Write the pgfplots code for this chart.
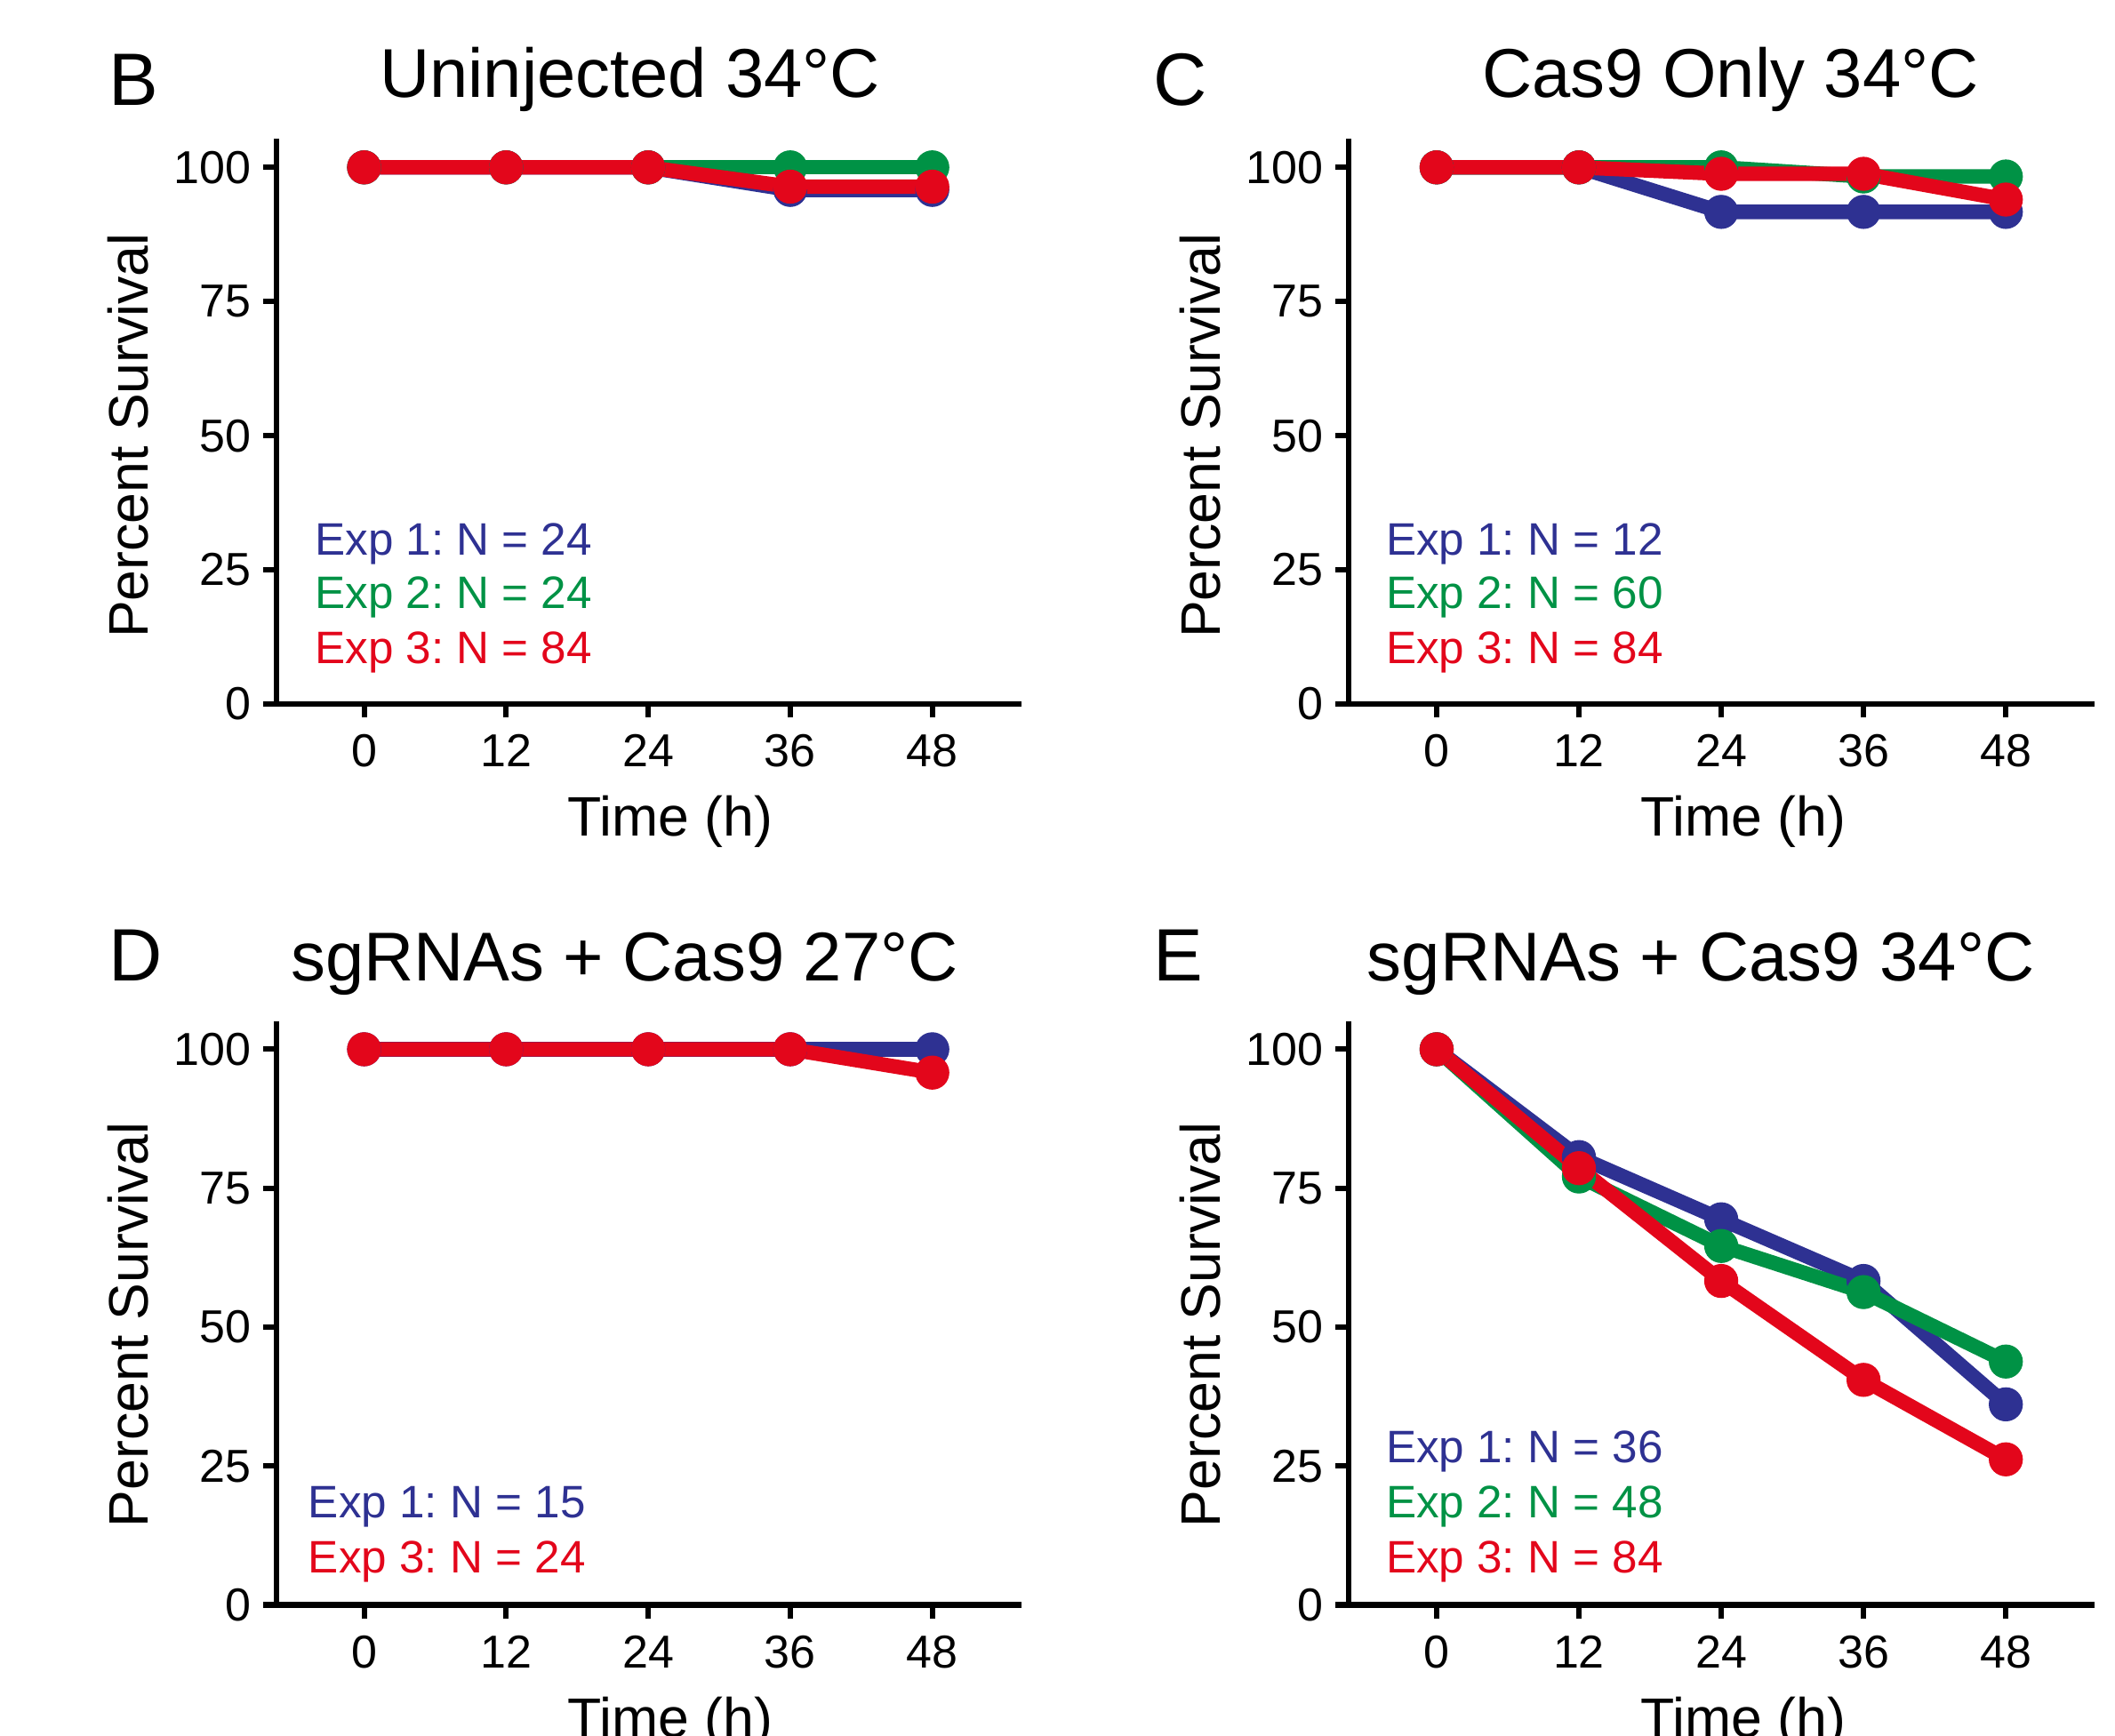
\documentclass[border=0pt]{standalone}
\usepackage{fontspec}
\setmainfont{Liberation Sans}
\usepackage{pgfplots}
\pgfplotsset{compat=1.18}
\frenchspacing
\definecolor{cblue}{HTML}{2E3192}
\definecolor{cgreen}{HTML}{009245}
\definecolor{cred}{HTML}{E3061B}
\pgfplotsset{
  panel/.style={
    scale only axis, width=220.8pt,
    xmin=-7.4, xmax=55.5, ymin=0,
    axis x line*=bottom, axis y line*=left,
    axis line style={line width=1.6pt, -, black},
    xtick={0,12,24,36,48}, ytick={0,25,50,75,100},
    tick style={line width=1.6pt, black},
    major tick length=4pt, tick align=outside,
    tick label style={font=\fontsize{13.7}{15}\selectfont},
    xticklabel style={yshift=-1.6pt},
    /pgf/number format/assume math mode=true,
    label style={font=\fontsize{16.5}{18}\selectfont},
    xlabel={Time (h)}, ylabel={Percent Survival},
    xlabel style={at={(rel axis cs:0.529,0)}, anchor=base, yshift=-39.2pt},
    clip=false,
  },
  ser/.style={line width=4.3pt, mark=*, mark size=4.9pt, mark options={line width=0.3pt}},
}
\tikzset{lg/.style={anchor=west, inner sep=0pt, yshift=-1.2pt}}
\newcommand{\leg}[1]{\fontsize{13.5}{15}\selectfont #1}
\begin{document}
\begin{tikzpicture}
\useasboundingbox (0,0) rectangle (627.2pt,-514.8pt);
% ---------- B ----------
\begin{axis}[panel, at={(82pt,-208.8pt)}, anchor=south west, height=167.6pt, ymax=105.3,
  ylabel style={at={(rel axis cs:-0.199,0.475)}, anchor=center}]
\addplot[ser, cblue] coordinates {(0,100) (12,100) (24,100) (36,95.8) (48,95.8)};
\addplot[ser, cgreen] coordinates {(0,100) (12,100) (24,100) (36,100) (48,100)};
\addplot[ser, cred] coordinates {(0,100) (12,100) (24,100) (36,96.4) (48,96.4)};
\node[lg, text=cblue] at (rel axis cs:0.0507,0.291) {\leg{Exp 1: N = 24}};
\node[lg, text=cgreen] at (rel axis cs:0.0507,0.196) {\leg{Exp 2: N = 24}};
\node[lg, text=cred] at (rel axis cs:0.0507,0.098) {\leg{Exp 3: N = 84}};
\end{axis}
% ---------- C ----------
\begin{axis}[panel, at={(400pt,-208.8pt)}, anchor=south west, height=167.6pt, ymax=105.3, width=221.2pt,
  ylabel style={at={(rel axis cs:-0.199,0.475)}, anchor=center}]
\addplot[ser, cblue] coordinates {(0,100) (12,100) (24,91.7) (36,91.7) (48,91.7)};
\addplot[ser, cgreen] coordinates {(0,100) (12,100) (24,100) (36,98.3) (48,98.3)};
\addplot[ser, cred] coordinates {(0,100) (12,100) (24,98.8) (36,98.8) (48,94.0)};
\node[lg, text=cblue] at (rel axis cs:0.049,0.291) {\leg{Exp 1: N = 12}};
\node[lg, text=cgreen] at (rel axis cs:0.049,0.196) {\leg{Exp 2: N = 60}};
\node[lg, text=cred] at (rel axis cs:0.049,0.098) {\leg{Exp 3: N = 84}};
\end{axis}
% ---------- D ----------
\begin{axis}[panel, at={(82pt,-476pt)}, anchor=south west, height=173.2pt, ymax=105.1,
  ylabel style={at={(rel axis cs:-0.199,0.48)}, anchor=center}]
\addplot[ser, cblue] coordinates {(0,100) (12,100) (24,100) (36,100) (48,100)};
\addplot[ser, cred] coordinates {(0,100) (12,100) (24,100) (36,100) (48,95.8)};
\node[lg, text=cblue] at (rel axis cs:0.042,0.1755) {\leg{Exp 1: N = 15}};
\node[lg, text=cred] at (rel axis cs:0.042,0.0808) {\leg{Exp 3: N = 24}};
\end{axis}
% ---------- E ----------
\begin{axis}[panel, at={(400pt,-476pt)}, anchor=south west, height=173.2pt, ymax=105.1, width=221.2pt,
  ylabel style={at={(rel axis cs:-0.199,0.48)}, anchor=center}]
\addplot[ser, cblue] coordinates {(0,100) (12,80.6) (24,69.4) (36,58.3) (48,36.1)};
\addplot[ser, cgreen] coordinates {(0,100) (12,77.1) (24,64.6) (36,56.3) (48,43.8)};
\addplot[ser, cred] coordinates {(0,100) (12,78.6) (24,58.3) (36,40.5) (48,26.2)};
\node[lg, text=cblue] at (rel axis cs:0.049,0.270) {\leg{Exp 1: N = 36}};
\node[lg, text=cgreen] at (rel axis cs:0.049,0.1755) {\leg{Exp 2: N = 48}};
\node[lg, text=cred] at (rel axis cs:0.049,0.0808) {\leg{Exp 3: N = 84}};
\end{axis}
% ---------- titles and panel letters ----------
\begin{scope}[every node/.style={inner sep=0pt}]
\node[anchor=base] at (186.8pt,-28.8pt) {\fontsize{20.5}{22}\selectfont Uninjected 34°C};
\node[anchor=base] at (513.2pt,-28.8pt) {\fontsize{20.5}{22}\selectfont Cas9 Only 34°C};
\node[anchor=base] at (185.2pt,-290.8pt) {\fontsize{20.5}{22}\selectfont sgRNAs + Cas9 27°C};
\node[anchor=base] at (504.4pt,-290.8pt) {\fontsize{20.5}{22}\selectfont sgRNAs + Cas9 34°C};
\node[anchor=base west] at (32pt,-31.2pt) {\fontsize{22}{24}\selectfont B};
\node[anchor=base west] at (342pt,-31.2pt) {\fontsize{22}{24}\selectfont C};
\node[anchor=base west] at (32pt,-290.8pt) {\fontsize{22}{24}\selectfont D};
\node[anchor=base west] at (342pt,-290.8pt) {\fontsize{22}{24}\selectfont E};
\end{scope}
\end{tikzpicture}
\end{document}
